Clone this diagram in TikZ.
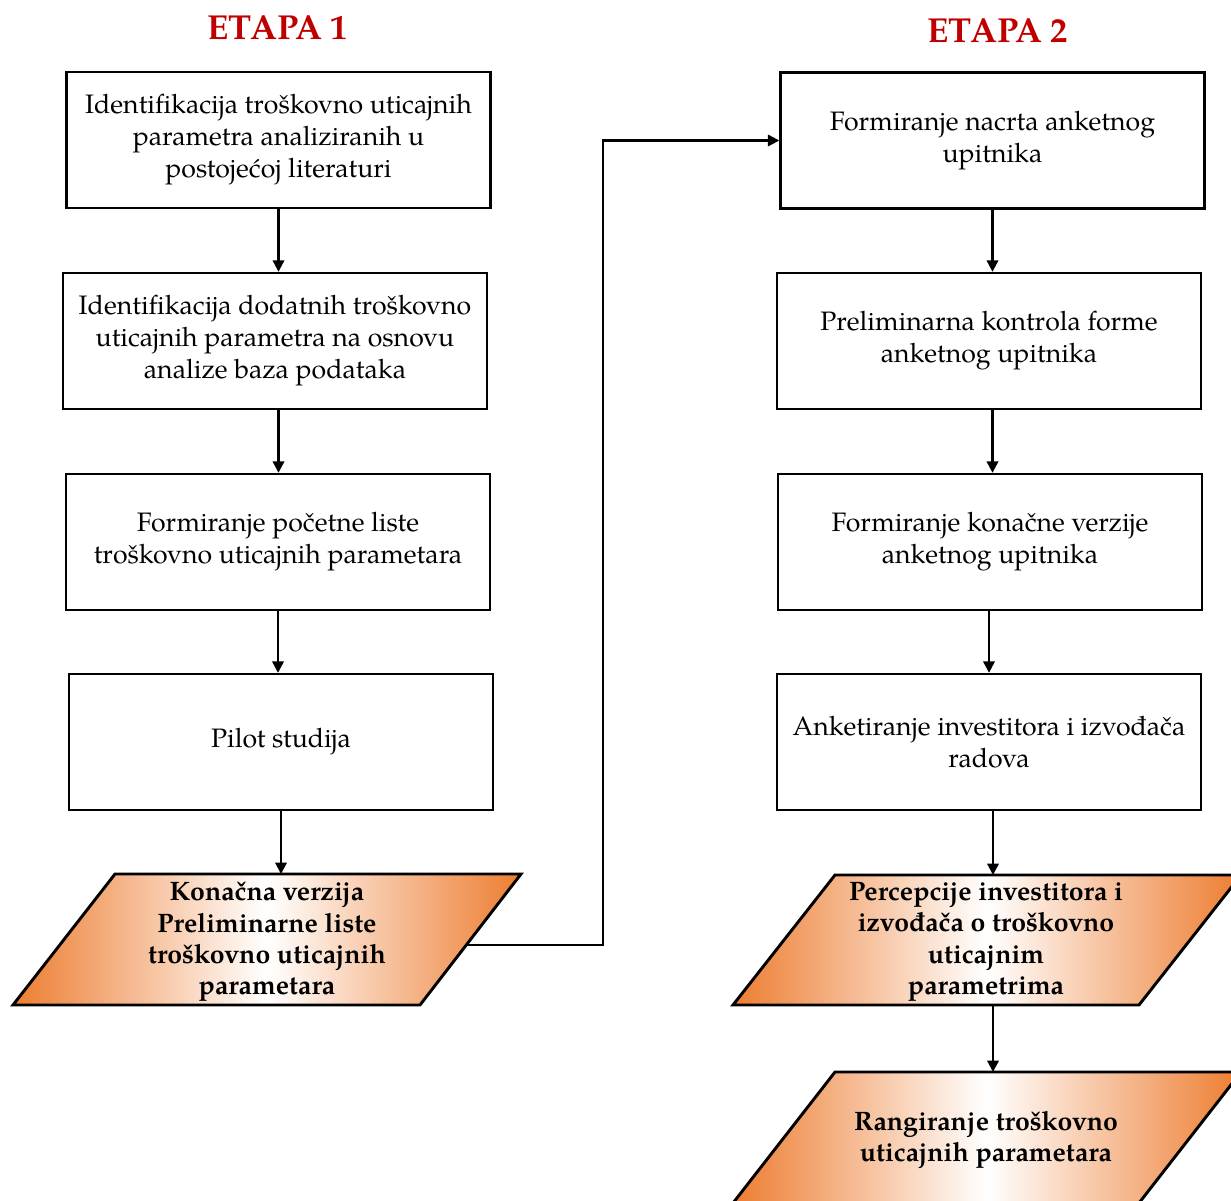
\documentclass[tikz,border=0pt]{standalone}
\usepackage{fontspec}
\setmainfont{TeX Gyre Pagella}
\usetikzlibrary{arrows.meta}
\newlength\px \setlength\px{0.75pt}
\definecolor{etapared}{RGB}{192,0,0}
\definecolor{shorange}{RGB}{237,125,49}
\begin{document}
\begin{tikzpicture}[x=0.75pt,y=-0.75pt,
  box/.style={draw, line width=1.8pt, align=center, inner sep=0pt,
    minimum width=424\px, minimum height=136\px, font=\fontsize{20}{24}\selectfont},
  para/.style={draw, line width=2.2pt, left color=shorange, right color=shorange, middle color=white},
  ptext/.style={align=center, inner sep=0pt, font=\fontsize{20}{23.5}\selectfont\bfseries},
  arr/.style={line width=1.7pt, -{Triangle[length=8.5pt,width=8.5pt]}},
  ttl/.style={font=\fontsize{26}{30}\selectfont\bfseries, text=etapared}]
\useasboundingbox (0,0) rectangle (1231,1200);

% titles
\node[ttl] (t1) at (278,28) {ETAPA 1};
\node[ttl] (t2) at (998,31) {ETAPA 2};

% left column
\node[box] (b1) at (278.5,140) {Identifikacija troškovno uticajnih\\parametra analiziranih u\\postojećoj literaturi};
\node[box] (b2) at (275,341) {Identifikacija dodatnih troškovno\\uticajnih parametra na osnovu\\analize baza podataka};
\node[box] (b3) at (278,542) {Formiranje početne liste\\troškovno uticajnih parametara};
\node[box] (b4) at (281,742) {Pilot studija};

\shadedraw[para] (115,874) -- (521,874) -- (420,1005) -- (13,1005) -- cycle;
\node[ptext] (p1) at (267,942) {Konačna verzija\\Preliminarne liste\\troškovno uticajnih\\parametara};
\coordinate (p1top) at (281,874);
\coordinate (p1r) at (467,945);

% right column
\node[box] (r1) at (992.5,140.5) {Formiranje nacrta anketnog\\upitnika};
\node[box] (r2) at (989,341) {Preliminarna kontrola forme\\anketnog upitnika};
\node[box] (r3) at (990,542) {Formiranje konačne verzije\\anketnog upitnika};
\node[box] (r4) at (989,742) {Anketiranje investitora i izvođača\\radova};

\shadedraw[para] (835,875) -- (1241,875) -- (1139,1005) -- (733,1005) -- cycle;
\node[ptext] (p2) at (986,942) {Percepcije investitora i\\izvođača o troškovno\\uticajnim\\parametrima};
\coordinate (p2top) at (993,875);
\coordinate (p2bot) at (993,1005);

\shadedraw[para] (835,1072) -- (1241,1072) -- (1139,1203) -- (733,1203) -- cycle;
\node[ptext] (p3) at (986,1140) {Rangiranje troškovno\\uticajnih parametara};
\coordinate (p3top) at (993,1072);

% connectors
\draw[arr] (b1.south) -- (b1.south |- b2.north);
\draw[arr] (b2.south -| b1.south) -- (b1.south |- b3.north);
\draw[arr] (b3.south) -- (b3.south |- b4.north);
\draw[arr] (b4.south) -- (p1top);
\draw[arr] (p1r) -- ++(136,0) |- (r1.west);

\draw[arr] (r1.south) -- (r1.south |- r2.north);
\draw[arr] (r2.south -| r1.south) -- (r1.south |- r3.north);
\draw[arr] (r3.south -| r2.south) -- (r2.south |- r4.north);
\draw[arr] (r4.south -| p2top) -- (p2top);
\draw[arr] (p2bot) -- (p3top);
\end{tikzpicture}
\end{document}
